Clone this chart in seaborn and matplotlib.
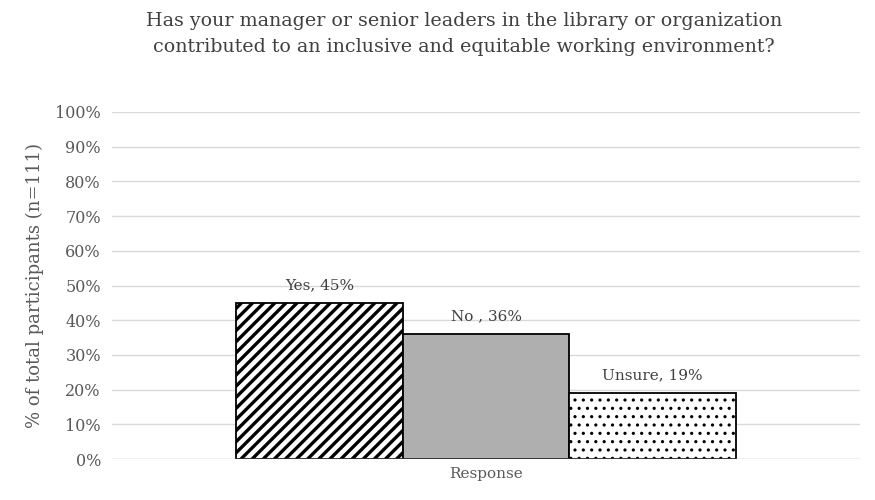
import seaborn as sns
import pandas as pd
import matplotlib.pyplot as plt

answers = ['Yes', 'No ', 'Unsure']
percents = [45, 36, 19]
category = ['Response', 'Response', 'Response']
colors = ['white', '#AFAFAF', 'white']
hatches = ['///', '', '..']
hatch_widths = [2.4, 1.0, 1.1]

data = pd.DataFrame({'Response': category, 'Answer': answers, 'Percent': percents})

sns.set_style('white')
plt.rcParams['font.family'] = ['DejaVu Serif']
plt.rcParams['hatch.linewidth'] = 2.4
txt = '#595959'

fig, ax = plt.subplots(figsize=(8.75, 5), dpi=100)
fig.subplots_adjust(left=0.128, right=0.983, top=0.776, bottom=0.082)

sns.barplot(data=data, x='Response', y='Percent', hue='Answer', width=0.668,
            palette=colors, edgecolor='black', linewidth=1.3, legend=False, ax=ax)

for bar, h, hw in zip(ax.patches, hatches, hatch_widths):
    bar.set_hatch(h)
    bar.set_edgecolor('black')
    if hasattr(bar, 'set_hatch_linewidth'):
        bar.set_hatch_linewidth(hw)

for bar, a, p in zip(ax.patches, answers, percents):
    ax.text(bar.get_x() + bar.get_width() / 2, bar.get_height() + 3,
            f'{a}, {p}%', ha='center', va='bottom', fontsize=11, color='#404040')

ax.set_ylim(0, 100)
ax.set_yticks(range(0, 101, 10))
ax.set_yticklabels([f'{v}%' for v in range(0, 101, 10)], fontsize=11.5, color=txt)
ax.yaxis.grid(True, color='#D9D9D9', linewidth=1)
ax.set_axisbelow(True)
ax.tick_params(axis='both', length=0, pad=8)
ax.set_xticks([])
ax.set_xlabel('Response', fontsize=11, color=txt, labelpad=6)
ax.set_ylabel('% of total participants (n=111)', fontsize=13, color=txt, labelpad=8)
for s in ax.spines.values():
    s.set_visible(False)
ax.axhline(0, color='#D9D9D9', linewidth=1)

fig.suptitle('Has your manager or senior leaders in the library or organization\n'
             'contributed to an inclusive and equitable working environment?',
             fontsize=13.7, color='#404040', x=0.53, y=0.975, linespacing=1.5)

plt.savefig('out.png')
